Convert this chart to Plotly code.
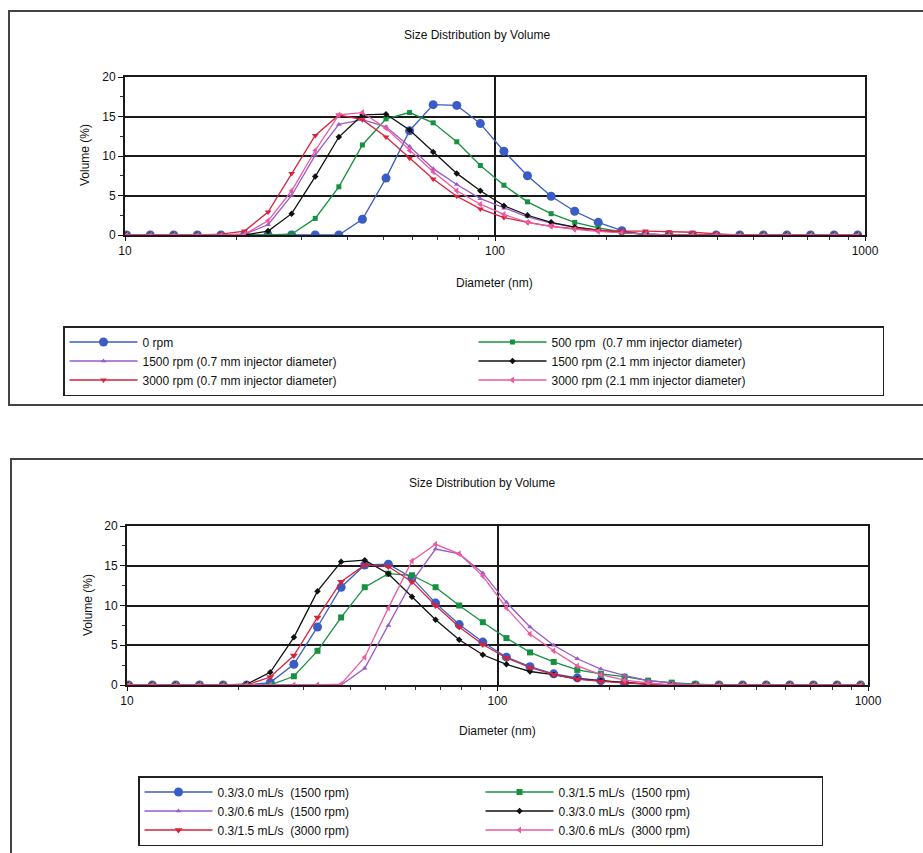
import plotly.graph_objects as go

# Size bins (nm)
diameter = [10.1, 11.7, 13.54, 15.69, 18.17, 21.04, 24.36, 28.21, 32.67, 37.84,
            43.82, 50.75, 58.77, 68.06, 78.82, 91.28, 105.7, 122.4, 141.8, 164.2,
            190.1, 220.2, 255.0, 295.3, 342.0, 396.1, 458.7, 531.2, 615.1, 712.4,
            825.0, 955.4]

# ---- Top chart series (Volume %) ----
top_names = ["0 rpm",
             "500 rpm \u00a0(0.7 mm injector diameter)",
             "1500 rpm (0.7 mm injector diameter)",
             "1500 rpm (2.1 mm injector diameter)",
             "3000 rpm (0.7 mm injector diameter)",
             "3000 rpm (2.1 mm injector diameter)"]
top_0rpm = [0, 0, 0, 0, 0, 0, 0, 0, 0, 0, 2.0, 7.2, 13.2, 16.5, 16.4, 14.1, 10.6, 7.5,
            4.9, 3.0, 1.6, 0.55, 0, 0, 0, 0, 0, 0, 0, 0, 0, 0]
top_500 = [0, 0, 0, 0, 0, 0, 0, 0.1, 2.1, 6.1, 11.4, 14.7, 15.5, 14.2, 11.8, 8.8, 6.3, 4.2,
           2.7, 1.6, 0.9, 0.4, 0.1, 0, 0, 0, 0, 0, 0, 0, 0, 0]
top_1500_07 = [0, 0, 0, 0, 0, 0.1, 1.3, 5.0, 10.1, 14.0, 14.6, 13.7, 11.2, 8.4, 6.4, 4.6, 3.4, 2.3,
               1.5, 1.0, 0.6, 0.3, 0.1, 0, 0, 0, 0, 0, 0, 0, 0, 0]
top_1500_21 = [0, 0, 0, 0, 0, 0, 0.5, 2.7, 7.4, 12.4, 15.2, 15.3, 13.3, 10.5, 7.8, 5.6, 3.7, 2.5,
               1.6, 1.0, 0.6, 0.3, 0.1, 0, 0, 0, 0, 0, 0, 0, 0, 0]
top_3000_07 = [0, 0, 0, 0, 0.1, 0.5, 2.9, 7.8, 12.6, 15.2, 14.6, 12.4, 9.7, 7.1, 4.9, 3.3, 2.2, 1.6,
               1.1, 0.8, 0.6, 0.5, 0.5, 0.4, 0.35, 0.15, 0, 0, 0, 0, 0, 0]
top_3000_21 = [0, 0, 0, 0, 0, 0.1, 1.8, 5.6, 10.7, 15.2, 15.5, 13.5, 10.7, 8.0, 5.6, 3.9, 2.6, 1.6,
               1.1, 0.7, 0.45, 0.25, 0.1, 0, 0, 0, 0, 0, 0, 0, 0, 0]

# ---- Bottom chart series (Volume %) ----
bot_names = ["0.3/3.0 mL/s \u00a0(1500 rpm)",
             "0.3/1.5 mL/s \u00a0(1500 rpm)",
             "0.3/0.6 mL/s \u00a0(1500 rpm)",
             "0.3/3.0 mL/s \u00a0(3000 rpm)",
             "0.3/1.5 mL/s \u00a0(3000 rpm)",
             "0.3/0.6 mL/s \u00a0(3000 rpm)"]
bot_30_1500 = [0, 0, 0, 0, 0, 0, 0.3, 2.6, 7.3, 12.3, 15.1, 15.2, 13.5, 10.3, 7.6, 5.4, 3.5, 2.3,
               1.4, 0.9, 0.55, 0.25, 0.1, 0, 0, 0, 0, 0, 0, 0, 0, 0]
bot_15_1500 = [0, 0, 0, 0, 0, 0, 0, 1.1, 4.3, 8.5, 12.3, 14.0, 13.8, 12.3, 10.0, 7.9, 5.9, 4.1,
               2.9, 1.9, 1.4, 1.05, 0.55, 0.3, 0.1, 0, 0, 0, 0, 0, 0, 0]
bot_06_1500 = [0, 0, 0, 0, 0, 0, 0, 0, 0, 0, 2.1, 7.5, 13.0, 17.1, 16.5, 14.1, 10.4, 7.3,
               5.0, 3.3, 2.0, 1.2, 0.55, 0.25, 0, 0, 0, 0, 0, 0, 0, 0]
bot_30_3000 = [0, 0, 0, 0, 0, 0.1, 1.6, 6.0, 11.8, 15.5, 15.7, 14.0, 11.1, 8.2, 5.7, 3.8, 2.6, 1.7,
               1.3, 0.75, 0.55, 0.3, 0.1, 0, 0, 0, 0, 0, 0, 0, 0, 0]
bot_15_3000 = [0, 0, 0, 0, 0, 0, 1.0, 3.7, 8.5, 13.0, 15.1, 14.9, 13.0, 10.0, 7.3, 5.1, 3.4, 2.2,
               1.3, 0.75, 0.45, 0.25, 0.1, 0, 0, 0, 0, 0, 0, 0, 0, 0]
bot_06_3000 = [0, 0, 0, 0, 0, 0, 0, 0, 0, 0.1, 3.5, 9.7, 15.6, 17.7, 16.5, 13.7, 9.7, 6.4,
               4.3, 2.4, 1.3, 0.6, 0.25, 0, 0, 0, 0, 0, 0, 0, 0, 0]

x_ticks = [10, 100, 1000]
x_minor = [20, 30, 40, 50, 60, 70, 80, 90, 200, 300, 400, 500, 600, 700, 800, 900]
y_ticks = [0, 5, 10, 15, 20]

FONT = "Liberation Sans, Arial, sans-serif"
W, H = 923, 853

top_style = [("#3a5cc4", "circle", 9), ("#16913f", "square", 5), ("#9a5ac8", "triangle-up", 5),
             ("#111111", "diamond", 5), ("#d9223c", "triangle-down", 6), ("#ea5aa0", "triangle-left", 6)]
bot_style = [("#3a5cc4", "circle", 9), ("#16913f", "square", 6), ("#9a5ac8", "triangle-up", 5),
             ("#111111", "diamond", 5), ("#d9223c", "triangle-down", 7), ("#ea5aa0", "triangle-left", 6)]

fig = go.Figure()
top_series = [top_0rpm, top_500, top_1500_07, top_1500_21, top_3000_07, top_3000_21]
for name, ys, (c, sym, sz) in zip(top_names, top_series, top_style):
    fig.add_trace(go.Scatter(x=diameter, y=ys, name=name, mode="lines+markers",
                             line=dict(color=c, width=1.3),
                             marker=dict(color=c, symbol=sym, size=sz),
                             xaxis="x", yaxis="y", legend="legend"))
bot_series = [bot_30_1500, bot_15_1500, bot_06_1500, bot_30_3000, bot_15_3000, bot_06_3000]
for name, ys, (c, sym, sz) in zip(bot_names, bot_series, bot_style):
    fig.add_trace(go.Scatter(x=diameter, y=ys, name=name, mode="lines+markers",
                             line=dict(color=c, width=1.3),
                             marker=dict(color=c, symbol=sym, size=sz),
                             xaxis="x2", yaxis="y2", legend="legend2"))


def px_x(p):
    return p / W


def px_y(p):
    return 1 - p / H


def xax(domain, anchor):
    return dict(type="log", range=[1, 3], domain=domain, anchor=anchor,
                tickvals=x_ticks, ticktext=[str(v) for v in x_ticks],
                ticks="outside", ticklen=4, tickcolor="#111", tickwidth=1.2,
                minor=dict(tickvals=x_minor, ticks="outside", ticklen=3, tickcolor="#333", showgrid=False),
                showgrid=True, gridcolor="#1a1a1a", gridwidth=1.5,
                showline=True, linecolor="#1a1a1a", linewidth=1.8, mirror=True,
                tickfont=dict(size=12, color="#111", family=FONT), zeroline=False, automargin=False)


def yax(domain, anchor):
    return dict(range=[0, 20], domain=domain, anchor=anchor, tickvals=y_ticks,
                ticks="outside", ticklen=5, tickcolor="#111", tickwidth=1.2,
                minor=dict(dtick=2.5, ticks="outside", ticklen=3, tickcolor="#333", showgrid=False),
                showgrid=True, gridcolor="#1a1a1a", gridwidth=1.6,
                showline=True, linecolor="#1a1a1a", linewidth=1.8, mirror=True,
                tickfont=dict(size=12, color="#111", family=FONT), zeroline=False, automargin=False)


fig.update_layout(
    width=W, height=H, margin=dict(l=0, r=0, t=0, b=0, pad=0, autoexpand=False),
    paper_bgcolor="white", plot_bgcolor="white",
    font=dict(family=FONT, size=12, color="#111"),
    xaxis=xax([px_x(125), px_x(865)], "y"),
    yaxis=yax([px_y(235), px_y(77)], "x"),
    xaxis2=xax([px_x(127), px_x(868)], "y2"),
    yaxis2=yax([px_y(685), px_y(526)], "x2"),
    legend=dict(x=px_x(63), y=px_y(326), xanchor="left", yanchor="top", orientation="h",
                entrywidth=326, itemwidth=68, bordercolor="#222", borderwidth=1.5,
                bgcolor="white", font=dict(size=12, family=FONT, color="#111"), traceorder="normal"),
    legend2=dict(x=px_x(138), y=px_y(776), xanchor="left", yanchor="top", orientation="h",
                 entrywidth=258, itemwidth=68, bordercolor="#222", borderwidth=1.5,
                 bgcolor="white", font=dict(size=12, family=FONT, color="#111"), traceorder="normal"),
    showlegend=True,
)

# Panel frames
fig.add_shape(type="rect", xref="paper", yref="paper", x0=px_x(9), x1=px_x(940), y0=px_y(405), y1=px_y(11),
              line=dict(color="#444", width=2), fillcolor="rgba(0,0,0,0)", layer="below")
fig.add_shape(type="rect", xref="paper", yref="paper", x0=px_x(11), x1=px_x(940), y0=px_y(880), y1=px_y(459),
              line=dict(color="#444", width=2), fillcolor="rgba(0,0,0,0)", layer="below")

ann = [
    ("Size Distribution by Volume", 477, 35, 0),
    ("Diameter (nm)", 495, 283, 0),
    ("Volume (%)", 85, 155, -90),
    ("Size Distribution by Volume", 482, 483, 0),
    ("Diameter (nm)", 497, 731, 0),
    ("Volume (%)", 88, 605, -90),
]
for text, ax_, ay_, rot in ann:
    fig.add_annotation(text=text, x=px_x(ax_), y=px_y(ay_), xref="paper", yref="paper",
                       showarrow=False, textangle=rot, font=dict(size=12, family=FONT, color="#111"),
                       xanchor="center", yanchor="middle")

fig.write_html("out.html", config={"displayModeBar": False},
               post_script="document.body.style.margin='0';document.body.style.overflow='hidden';")
